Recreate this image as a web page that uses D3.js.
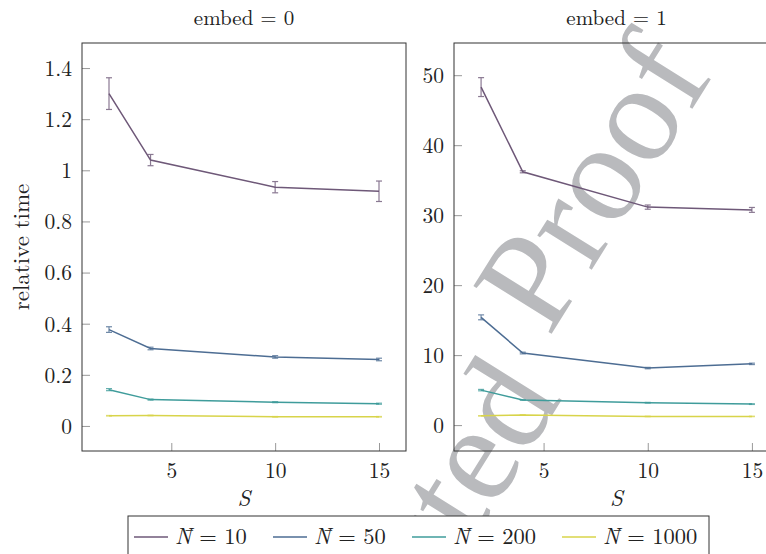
<!DOCTYPE html>
<html><head><meta charset="utf-8">
<script src="https://cdn.jsdelivr.net/npm/d3@7"></script>
<style>
html,body{margin:0;padding:0;background:#fff;}
svg{display:block;}
</style></head>
<body>
<svg id="chart" width="766" height="554"></svg>
<script>
// ---- data ----
const S = [2, 4, 10, 15];
const seriesNames = ["10", "50", "200", "1000"];
const colors = ["#6e5878", "#4d6d93", "#3f9c9b", "#d8d44a"];
const panelTitles = ["embed = 0", "embed = 1"];
const xTicks = [5, 10, 15];
const yTicks0 = [0, 0.2, 0.4, 0.6, 0.8, 1, 1.2, 1.4];
const yTicks1 = [0, 10, 20, 30, 40, 50];

// embed = 0 : means and error half-widths
const e0_N10 = [1.300, 1.040, 0.934, 0.918];
const e0_N10_err = [0.062, 0.022, 0.022, 0.040];
const e0_N50 = [0.377, 0.303, 0.270, 0.260];
const e0_N50_err = [0.011, 0.005, 0.005, 0.005];
const e0_N200 = [0.142, 0.103, 0.093, 0.087];
const e0_N200_err = [0.004, 0.002, 0.002, 0.002];
const e0_N1000 = [0.040, 0.041, 0.036, 0.036];
const e0_N1000_err = [0.001, 0.001, 0.001, 0.001];

// embed = 1
const e1_N10 = [48.3, 36.2, 31.15, 30.75];
const e1_N10_err = [1.35, 0.15, 0.3, 0.35];
const e1_N50 = [15.4, 10.3, 8.15, 8.75];
const e1_N50_err = [0.35, 0.12, 0.1, 0.1];
const e1_N200 = [5.0, 3.6, 3.2, 3.0];
const e1_N200_err = [0.1, 0.05, 0.05, 0.05];
const e1_N1000 = [1.33, 1.43, 1.24, 1.24];
const e1_N1000_err = [0.03, 0.03, 0.03, 0.03];

const panels = [
  {title: panelTitles[0], yDomain: [-0.098, 1.498], yTicks: yTicks0, x0: 82, x1: 406,
   means: [e0_N10, e0_N50, e0_N200, e0_N1000], errs: [e0_N10_err, e0_N50_err, e0_N200_err, e0_N1000_err]},
  {title: panelTitles[1], yDomain: [-3.7, 54.6], yTicks: yTicks1, x0: 454, x1: 779,
   means: [e1_N10, e1_N50, e1_N200, e1_N1000], errs: [e1_N10_err, e1_N50_err, e1_N200_err, e1_N1000_err]}
];

const FONT = '"Latin Modern Roman", "Liberation Serif", serif';
const WMFONT = '"Liberation Serif", "Tinos", serif';
const svg = d3.select("#chart");
const plotTop = 43, plotBottom = 451;

// watermark (behind)
const wm = svg.append("g").attr("transform", "translate(549,338) rotate(-58)");
wm.append("text").attr("x", 0).attr("y", 0).attr("text-anchor", "start")
  .style("font-family", WMFONT).style("font-size", "140px").style("fill", "#b9babd")
  .text("Proof");
const wm2 = svg.append("g").attr("transform", "translate(568,390) rotate(-58)");
wm2.append("text").attr("x", -10).attr("y", 0).attr("text-anchor", "end")
  .style("font-family", WMFONT).style("font-size", "140px").style("fill", "#b9babd")
  .text("Uncorrected");

panels.forEach((p, pi) => {
  const x = d3.scaleLinear().domain([0.7, 16.3]).range([p.x0, p.x1]);
  const y = d3.scaleLinear().domain(p.yDomain).range([plotBottom, plotTop]);
  const g = svg.append("g");

  const yAxis = d3.axisLeft(y).tickValues(p.yTicks).tickSize(-8).tickPadding(10)
    .tickFormat(d => (pi === 0 ? d3.format("~g")(d) : d));
  const ya = g.append("g").attr("transform", `translate(${p.x0},0)`).call(yAxis);
  ya.select(".domain").remove();
  ya.selectAll("line").attr("stroke", "#999");
  ya.selectAll("text").style("font-size", "21.5px").style("font-family", FONT).attr("fill", "#222").attr("dy", "0.34em");

  const xAxis = d3.axisBottom(x).tickValues(xTicks).tickSize(-8).tickPadding(12);
  const xa = g.append("g").attr("transform", `translate(0,${plotBottom})`).call(xAxis);
  xa.select(".domain").remove();
  xa.selectAll("line").attr("stroke", "#999");
  xa.selectAll("text").style("font-size", "21.5px").style("font-family", FONT).attr("fill", "#222").attr("dy", "0.71em");

  const line = d3.line().x((d, i) => x(S[i])).y(d => y(d));
  p.means.forEach((m, si) => {
    g.append("path").datum(m).attr("d", line).attr("fill", "none")
      .attr("stroke", colors[si]).attr("stroke-width", 1.5);
    const eb = g.append("g").attr("stroke", colors[si]).attr("stroke-width", 1.2).attr("opacity", 0.8);
    m.forEach((v, i) => {
      const e = p.errs[si][i];
      const cx = x(S[i]);
      eb.append("line").attr("x1", cx).attr("x2", cx).attr("y1", y(v - e)).attr("y2", y(v + e));
      eb.append("line").attr("x1", cx - 3).attr("x2", cx + 3).attr("y1", y(v - e)).attr("y2", y(v - e));
      eb.append("line").attr("x1", cx - 3).attr("x2", cx + 3).attr("y1", y(v + e)).attr("y2", y(v + e));
    });
  });

  g.append("rect").attr("x", p.x0).attr("y", plotTop).attr("width", p.x1 - p.x0).attr("height", plotBottom - plotTop)
    .attr("fill", "none").attr("stroke", "#333").attr("stroke-width", 1);

  svg.append("text").attr("x", (p.x0 + p.x1) / 2).attr("y", 25).attr("text-anchor", "middle")
    .style("font-family", FONT).style("font-size", "21px").attr("fill", "#222").text(p.title);
  svg.append("text").attr("x", (p.x0 + p.x1) / 2).attr("y", 506).attr("text-anchor", "middle")
    .style("font-family", FONT).style("font-size", "23px").style("font-style", "italic").attr("fill", "#222").text("S");
});

svg.append("text").attr("transform", `translate(29,${(plotTop + plotBottom) / 2}) rotate(-90)`)
  .attr("text-anchor", "middle").style("font-family", FONT).style("font-size", "23px").attr("fill", "#222").text("relative time");

const lg = svg.append("g");
lg.append("rect").attr("x", 128).attr("y", 516).attr("width", 581).attr("height", 50)
  .attr("fill", "#fff").attr("stroke", "#333").attr("stroke-width", 1);
const legendX = [134, 273, 412, 562];
seriesNames.forEach((n, i) => {
  lg.append("line").attr("x1", legendX[i]).attr("x2", legendX[i] + 34).attr("y1", 537).attr("y2", 537)
    .attr("stroke", colors[i]).attr("stroke-width", 1.5);
  const t = lg.append("text").attr("x", legendX[i] + 41).attr("y", 544)
    .style("font-family", FONT).style("font-size", "22.5px").attr("fill", "#222");
  t.append("tspan").style("font-style", "italic").text("N\u0304");
  t.append("tspan").text(" = " + n);
});
</script>
</body></html>
